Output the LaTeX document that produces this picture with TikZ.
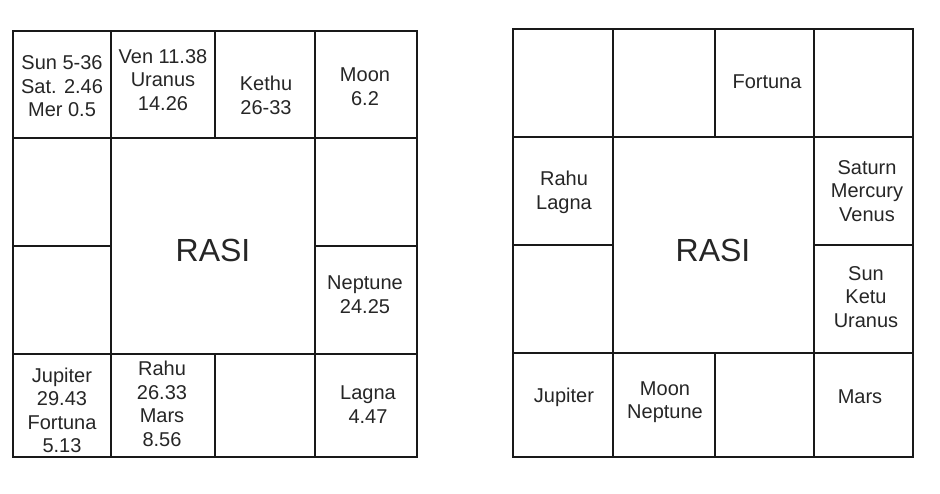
\documentclass[tikz,border=0pt]{standalone}
\usepackage{fontspec}
\setmainfont{Liberation Sans}
\begin{document}
\begin{tikzpicture}[x=1pt,y=-1pt,
  grid/.style={line width=2.2pt,line cap=rect,draw=black!90},
  lbl/.style={inner sep=0pt,align=center,font=\fontsize{20}{23.5}\selectfont,text=black!85},
  big/.style={inner sep=0pt,font=\fontsize{32}{36}\selectfont,text=black!85}]
\useasboundingbox[fill=white] (0,0) rectangle (940,494);
% left grid
\draw[grid] (13,31) rectangle (417,457);
\draw[grid] (13,138) -- (417,138);
\draw[grid] (13,354) -- (417,354);
\draw[grid] (13,246) -- (111,246);
\draw[grid] (315,246) -- (417,246);
\draw[grid] (111,31) -- (111,457);
\draw[grid] (315,31) -- (315,457);
\draw[grid] (215,31) -- (215,138);
\draw[grid] (215,354) -- (215,457);
% right grid
\draw[grid] (513,29) rectangle (913,457);
\draw[grid] (513,137) -- (913,137);
\draw[grid] (513,353) -- (913,353);
\draw[grid] (513,245) -- (613,245);
\draw[grid] (814,245) -- (913,245);
\draw[grid] (613,29) -- (613,457);
\draw[grid] (814,29) -- (814,457);
\draw[grid] (715,29) -- (715,137);
\draw[grid] (715,353) -- (715,457);
% left texts
\node[lbl] (l00) at (62,86.5) {Sun 5-36\\Sat. 2.46\\Mer 0.5};
\node[lbl] (l10) at (163,80) {Ven 11.38\\Uranus\\14.26};
\node[lbl] (l20) at (266,95.5) {Kethu\\26-33};
\node[lbl] (l30) at (365,86.5) {Moon\\6.2};
\node[lbl] (l32) at (365,294.5) {Neptune\\24.25};
\node[lbl] (l03) at (62,410.5) {Jupiter\\29.43\\Fortuna\\5.13};
\node[lbl] (l13) at (162,404) {Rahu\\26.33\\Mars\\8.56};
\node[lbl] (l33) at (368,404.5) {Lagna\\4.47};
\node[big] (lrasi) at (213,250) {RASI};
% right texts
\node[lbl] (r20) at (767,82) {Fortuna};
\node[lbl] (r01) at (564,192.5) {Rahu\\Lagna};
\node[lbl] (r31) at (867,191) {Saturn\\Mercury\\Venus};
\node[lbl] (r32) at (866,297) {Sun\\Ketu\\Uranus};
\node[lbl] (r03) at (564,397) {Jupiter};
\node[lbl] (r13) at (665,402) {Moon\\Neptune};
\node[lbl] (r33) at (860,397) {Mars};
\node[big] (rrasi) at (713,250) {RASI};
\end{tikzpicture}
\end{document}
